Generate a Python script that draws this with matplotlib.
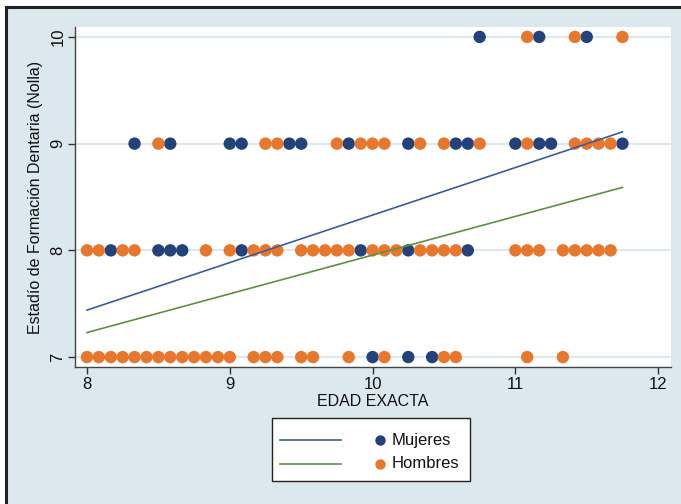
import matplotlib
matplotlib.use("Agg")
import matplotlib.pyplot as plt
from matplotlib.lines import Line2D
from matplotlib.patches import Rectangle

plt.rcParams['font.family'] = ['Liberation Sans', 'DejaVu Sans']

# ---- data (age in years, Nolla stage) ----
muj_10 = [10.75, 11.167, 11.5]
muj_9 = [8.333, 8.583, 9.0, 9.083, 9.417, 9.5, 9.833, 10.25, 10.583, 10.667,
         11.0, 11.167, 11.25, 11.75]
muj_8 = [8.167, 8.5, 8.583, 8.667, 9.083, 9.917, 10.25, 10.667]
muj_7 = [10.0, 10.25, 10.417]

hom_10 = [11.083, 11.417, 11.75]
hom_9 = [8.5, 9.25, 9.333, 9.75, 9.917, 10.0, 10.083, 10.333, 10.5, 10.75,
         11.083, 11.417, 11.5, 11.583, 11.667]
hom_8 = [8.0, 8.083, 8.25, 8.333, 8.833, 9.0, 9.167, 9.25, 9.333, 9.5, 9.583,
         9.667, 9.75, 9.833, 10.0, 10.083, 10.167, 10.333, 10.417, 10.5, 10.583,
         11.0, 11.083, 11.167, 11.333, 11.417, 11.5, 11.583, 11.667]
hom_7 = [8.0, 8.083, 8.167, 8.25, 8.333, 8.417, 8.5, 8.583, 8.667, 8.75, 8.833,
         8.917, 9.0, 9.167, 9.25, 9.333, 9.5, 9.583, 9.833, 10.083, 10.5, 10.583,
         11.083, 11.333]

# fitted regression lines (endpoints)
fit_x = [8.0, 11.75]
fit_muj = [7.44, 9.11]
fit_hom = [7.23, 8.59]

x_ticks = [8, 9, 10, 11, 12]
y_ticks = [7, 8, 9, 10]
legend_labels = ['Mujeres', 'Hombres']

NAVY = '#23427a'
ORANGE = '#e8772e'
BLUE_LINE = '#3d5c96'
GREEN_LINE = '#5b9141'
BG = '#dbe8ee'
GRID = '#dde8ee'

W, H = 681, 504
fig = plt.figure(figsize=(W / 100, H / 100), dpi=100)
fig.patch.set_facecolor('white')

def fx(px):
    return px / W

def fy(py):
    return 1 - py / H

# outer light-blue panel with dark top/left border
fig.patches.append(Rectangle((fx(6), 0), 1 - fx(6), fy(7), transform=fig.transFigure,
                             facecolor=BG, edgecolor='none', zorder=-10))
fig.lines.append(Line2D([fx(6), 1], [fy(7), fy(7)], transform=fig.transFigure,
                        color='#222222', lw=2.2, zorder=-5))
fig.lines.append(Line2D([fx(6), fx(6)], [0, fy(7)], transform=fig.transFigure,
                        color='#222222', lw=2.2, zorder=-5))

ax = fig.add_axes([fx(75), fy(367), (671 - 75) / W, (367 - 27) / H])
ax.set_facecolor('white')

def pts(lists, levels):
    xs, ys = [], []
    for l, lv in zip(lists, levels):
        xs += l
        ys += [lv] * len(l)
    return xs, ys

mx, my = pts([muj_10, muj_9, muj_8, muj_7], [10, 9, 8, 7])
hx, hy = pts([hom_10, hom_9, hom_8, hom_7], [10, 9, 8, 7])

ax.scatter(mx, my, s=80, color=NAVY, edgecolors='none', zorder=3)
ax.scatter(hx, hy, s=80, color=ORANGE, edgecolors='none', zorder=3)
ax.plot(fit_x, fit_muj, color=BLUE_LINE, lw=1.2, zorder=4)
ax.plot(fit_x, fit_hom, color=GREEN_LINE, lw=1.2, zorder=4)

ax.set_xlim(7.916, 12.09)
ax.set_ylim(6.907, 10.093)
ax.set_xticks(x_ticks)
ax.set_yticks(y_ticks)
ax.set_yticklabels([str(v) for v in y_ticks], rotation=90, va='center')
ax.tick_params(axis='both', labelsize=12, color='#333333', length=5, width=1,
               labelcolor='#111111')
ax.tick_params(axis='x', pad=2)
ax.tick_params(axis='y', pad=2)
ax.grid(axis='y', color=GRID, lw=1.5, zorder=0)
ax.set_axisbelow(True)
for s in ['top', 'right']:
    ax.spines[s].set_visible(False)
for s in ['left', 'bottom']:
    ax.spines[s].set_color('#444444')
    ax.spines[s].set_linewidth(1.0)

ax.set_xlabel('EDAD EXACTA', fontsize=11.5, color='#111111', labelpad=2)
ax.set_ylabel('Estadío de Formación Dentaria (Nolla)', fontsize=11.5, color='#111111',
              labelpad=5)

# manual Stata-style legend
fig.patches.append(Rectangle((fx(272), fy(481)), (470 - 272) / W, (481 - 418) / H,
                             transform=fig.transFigure, facecolor='white',
                             edgecolor='#222222', lw=1.0, zorder=5))
rows_y = [440, 464]
for ly, lc, mc, lab in zip(rows_y, [BLUE_LINE, GREEN_LINE], [NAVY, ORANGE], legend_labels):
    fig.lines.append(Line2D([fx(280), fx(341)], [fy(ly), fy(ly)], transform=fig.transFigure,
                            color=lc, lw=1.2, zorder=6))
    fig.lines.append(Line2D([fx(380)], [fy(ly)], transform=fig.transFigure, ls='none',
                            marker='o', ms=7.5, color=mc, mec='none', zorder=6))
    fig.text(fx(392), fy(ly), lab, fontsize=12, color='#111111', va='center',
             ha='left', zorder=6)

fig.savefig('out.png', dpi=100, facecolor=fig.get_facecolor())
